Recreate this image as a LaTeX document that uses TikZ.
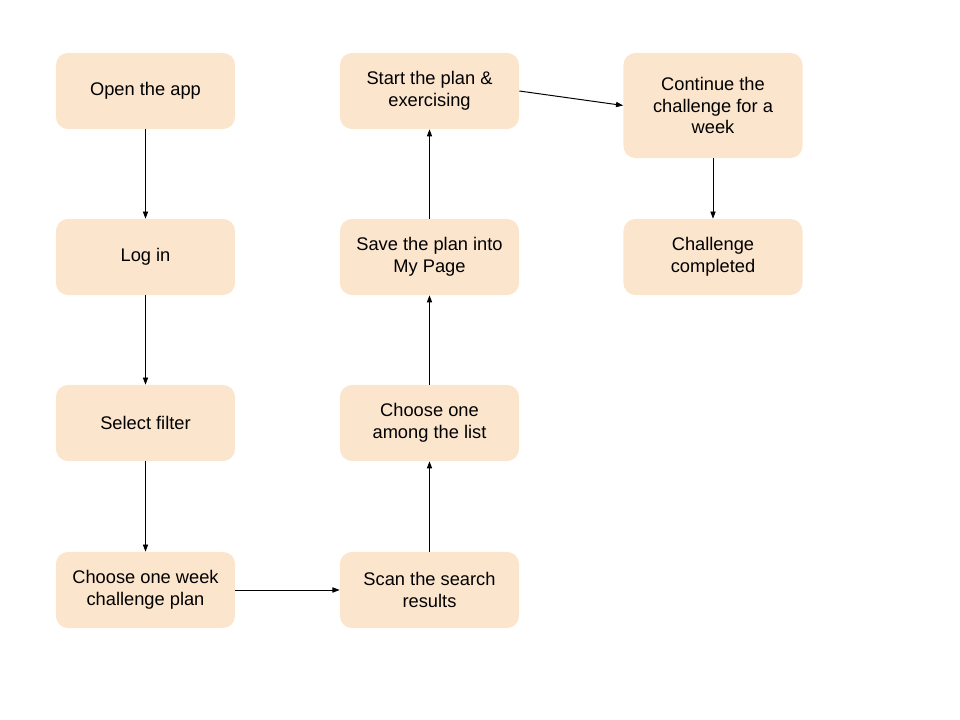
\documentclass[tikz,border=0pt]{standalone}
\usepackage{fontspec}
\setmainfont{Liberation Sans}
\usetikzlibrary{arrows.meta}
\definecolor{boxfill}{HTML}{FCE5CD}
\begin{document}
\begin{tikzpicture}[x=0.025cm, y=-0.025cm,
  every node/.style={rectangle, rounded corners=3mm, fill=boxfill, draw=none, align=center,
    minimum width=4.475cm, minimum height=1.9cm, font=\fontsize{13}{15.5}\selectfont},
  flow/.style={-{Triangle[length=1.8mm, width=1.3mm]}, line width=0.7pt}]

\useasboundingbox (0,0) rectangle (960,720);

% Left column
\node (open) at (145.5,91) {Open the app};
\node (login) at (145.5,257) {Log in};
\node (filter) at (145.5,423) {Select filter};
\node (choose) at (145.5,590) {Choose one week\\challenge plan};

% Middle column
\node (scan) at (429.5,590) {Scan the search\\results};
\node (among) at (429.5,423) {Choose one\\among the list};
\node (save) at (429.5,257) {Save the plan into\\My Page};
\node (start) at (429.5,91) {Start the plan \&\\exercising};

% Right column
\node[minimum height=2.625cm] (cont) at (713,105.5) {Continue the\\challenge for a\\week};
\node (done) at (713,257) {Challenge\\completed};

% Arrows down the left column
\draw[flow] (open) -- (login);
\draw[flow] (login) -- (filter);
\draw[flow] (filter) -- (choose);

% Across and up the middle column
\draw[flow] (choose) -- (scan);
\draw[flow] (scan) -- (among);
\draw[flow] (among) -- (save);
\draw[flow] (save) -- (start);

% Right column
\draw[flow] (start.east) -- (cont.west);
\draw[flow] (cont) -- (done);

\end{tikzpicture}
\end{document}
